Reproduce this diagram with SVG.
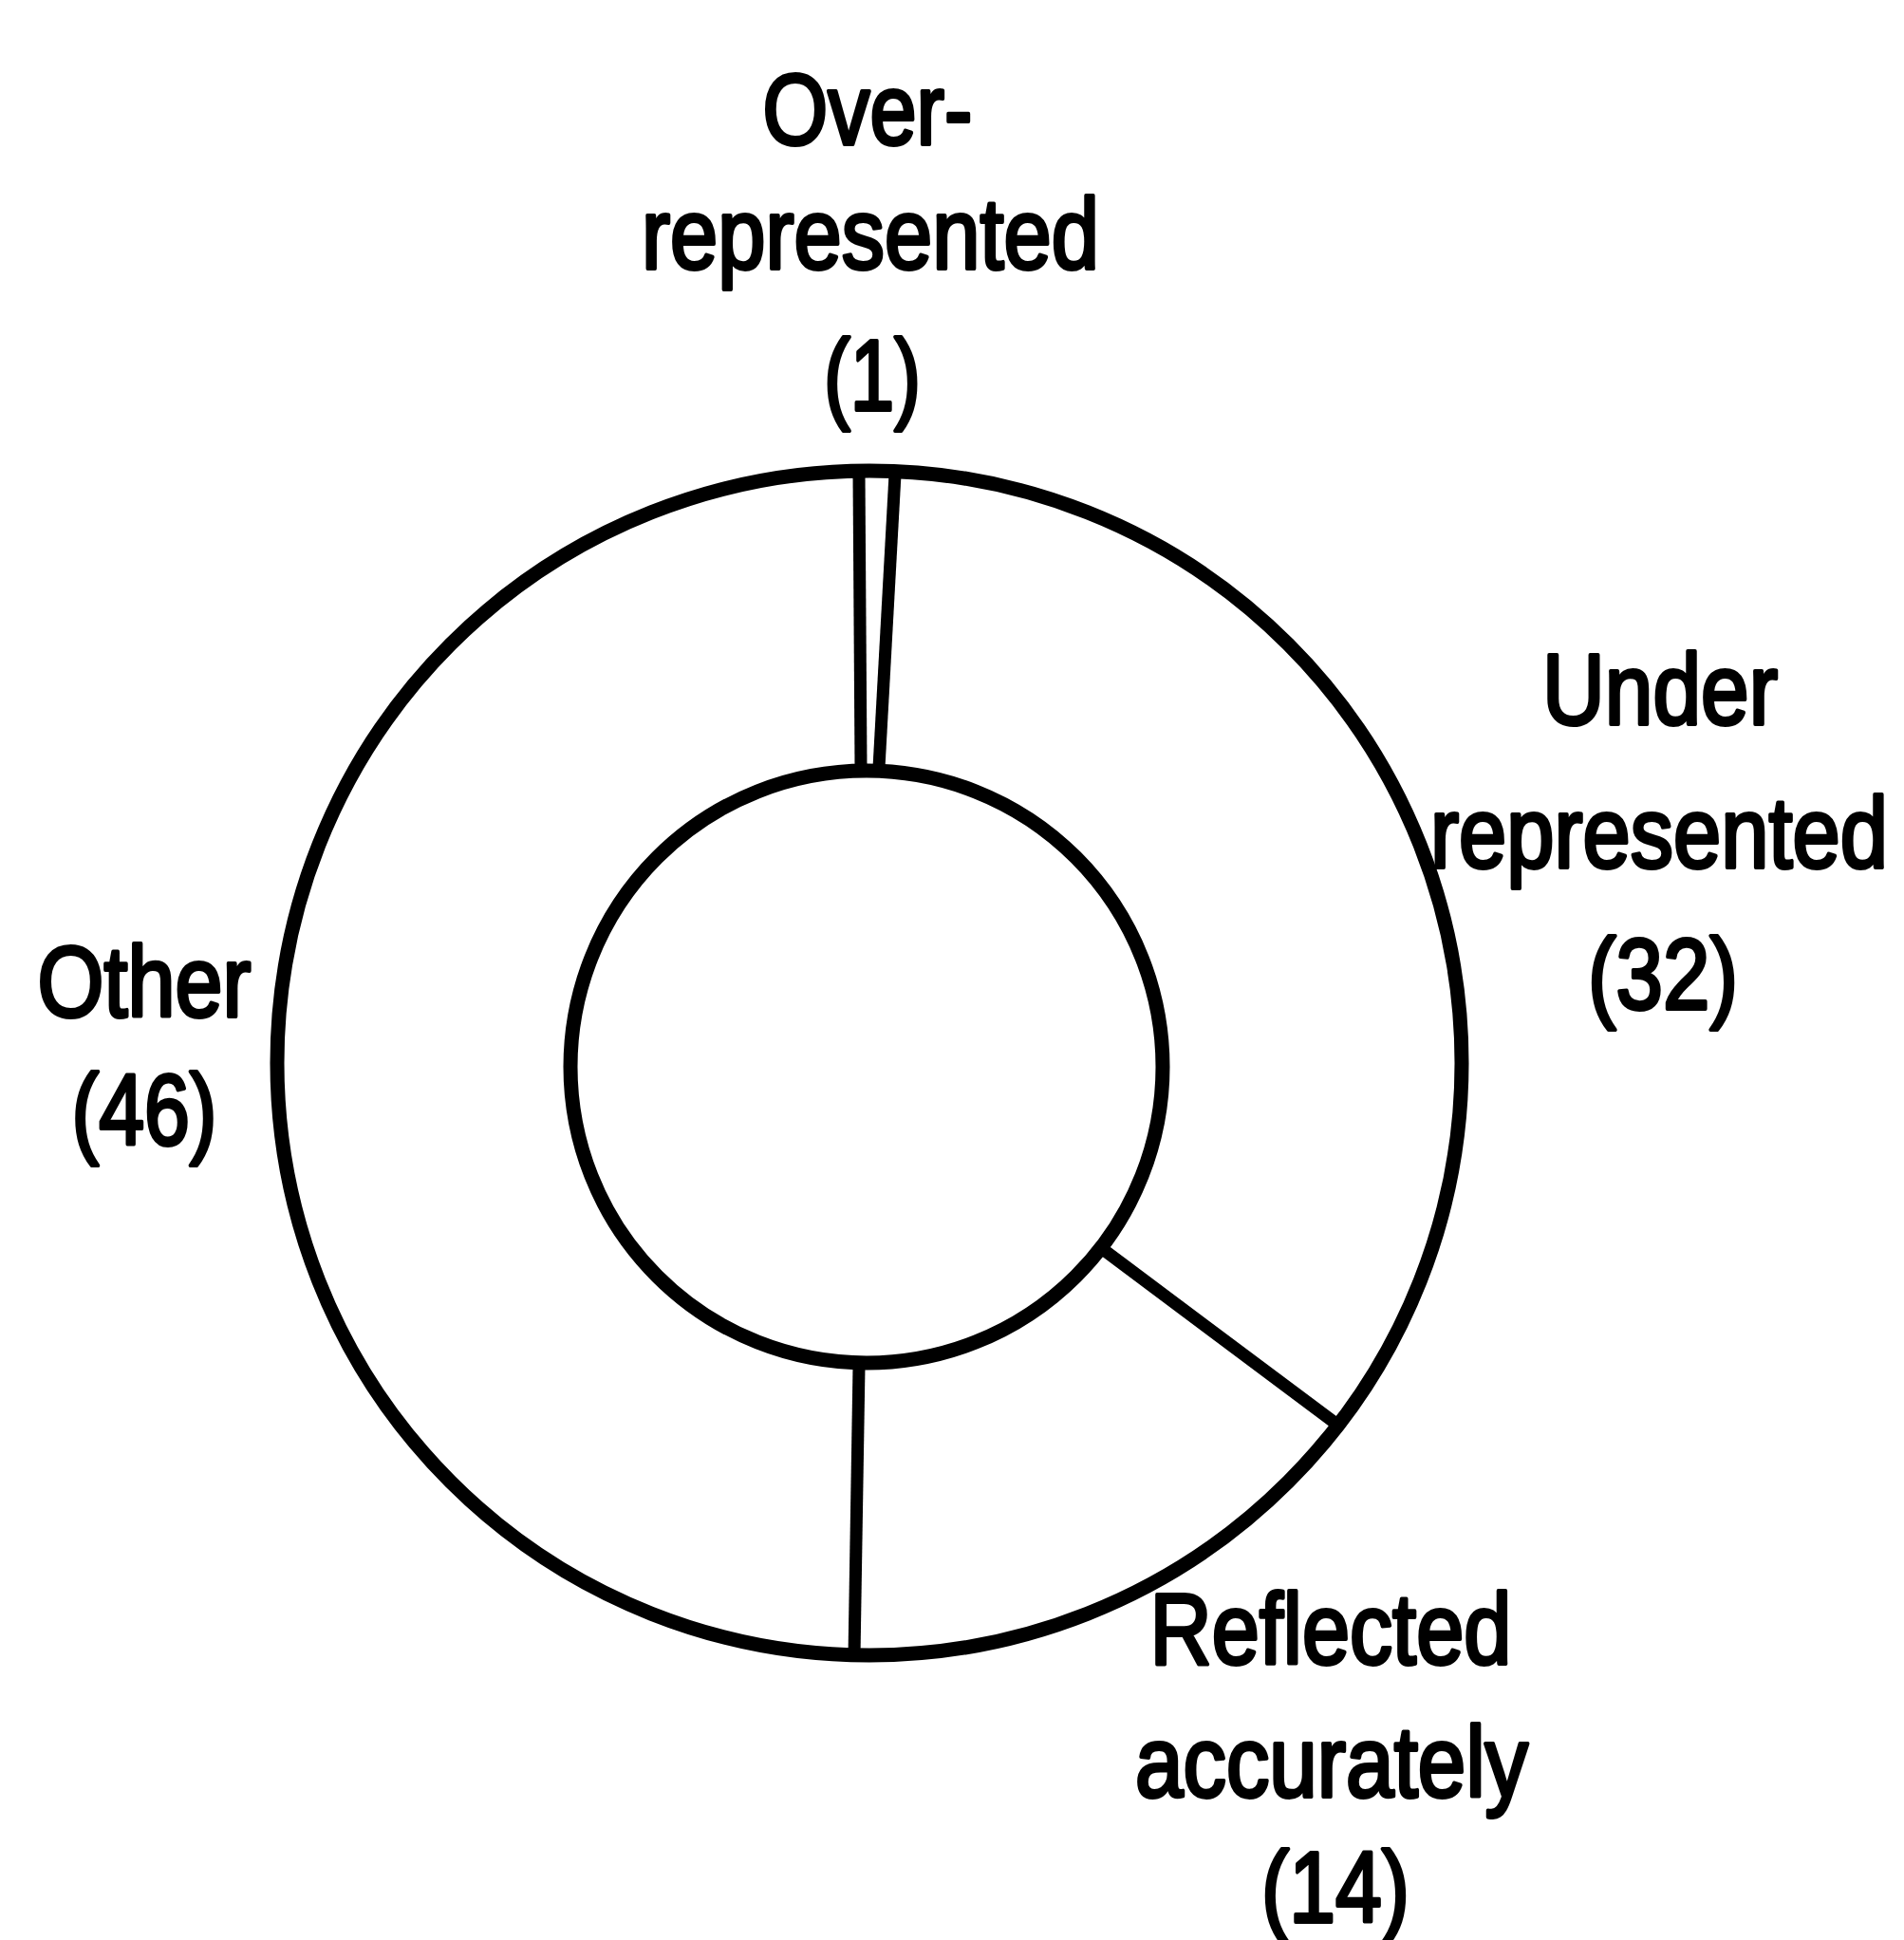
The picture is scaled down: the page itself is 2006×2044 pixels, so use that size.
<svg xmlns="http://www.w3.org/2000/svg" width="2006" height="2044" viewBox="0 0 2006 2044">
<style>
.ring{fill:none;stroke:#000;stroke-width:15}
.div{fill:none;stroke:#000;stroke-width:13;stroke-linecap:butt}
.lbl{font-family:"Liberation Sans",Arial,Helvetica,sans-serif;font-size:105px;fill:#000;stroke:#000;stroke-width:4;stroke-linejoin:round;text-anchor:middle}
</style>
<rect width="2006" height="2044" fill="#fff"/>
<g id="donut">
<circle class="ring" cx="916" cy="1120" r="624"/>
<circle class="ring" cx="913" cy="1124" r="312"/>
</g>
<g id="connectors">
<line class="div" x1="905" y1="500" x2="907" y2="808"/>
<line class="div" x1="943" y1="500" x2="926" y2="809"/>
<line class="div" x1="1163" y1="1317" x2="1405" y2="1498"/>
<line class="div" x1="905" y1="1440" x2="900" y2="1745"/>
</g>
<g id="label-over">
<text class="lbl" x="914" y="152" textLength="221" lengthAdjust="spacingAndGlyphs">Over-</text>
<text class="lbl" x="917" y="283" textLength="482" lengthAdjust="spacingAndGlyphs">represented</text>
<text class="lbl" x="919" y="432" textLength="102" lengthAdjust="spacingAndGlyphs">(1)</text>
</g>
<g id="label-under">
<text class="lbl" x="1749" y="763" textLength="248" lengthAdjust="spacingAndGlyphs">Under</text>
<text class="lbl" x="1748" y="914" textLength="482" lengthAdjust="spacingAndGlyphs">represented</text>
<text class="lbl" x="1752" y="1063" textLength="158" lengthAdjust="spacingAndGlyphs">(32)</text>
</g>
<g id="label-other">
<text class="lbl" x="152" y="1071" textLength="225" lengthAdjust="spacingAndGlyphs">Other</text>
<text class="lbl" x="152" y="1206" textLength="153" lengthAdjust="spacingAndGlyphs">(46)</text>
</g>
<g id="label-reflected">
<text class="lbl" x="1402" y="1753" textLength="381" lengthAdjust="spacingAndGlyphs">Reflected</text>
<text class="lbl" x="1403" y="1893" textLength="414" lengthAdjust="spacingAndGlyphs">accurately</text>
<text class="lbl" x="1407" y="2025" textLength="156" lengthAdjust="spacingAndGlyphs">(14)</text>
</g>
</svg>
